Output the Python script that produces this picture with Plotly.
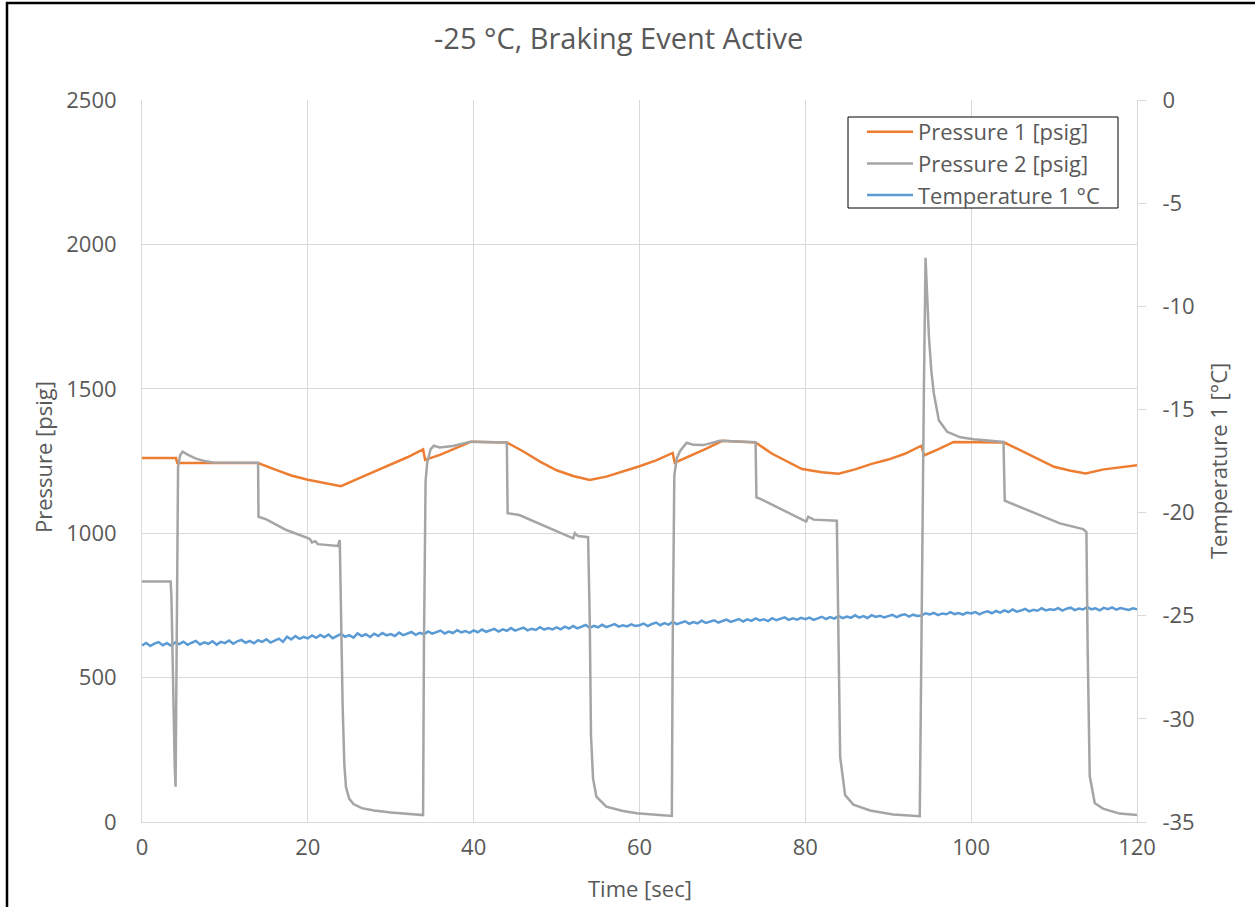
import numpy as np
import plotly.graph_objects as go

# ---------------- data ----------------
# Pressure 1 [psig] (breakpoints of the logged trace)
time_p1 = [0, 4.1, 4.25, 14.0, 16, 18, 20, 22, 24.0, 26, 28, 30, 32, 33.9, 34.15, 36, 38, 39.7,
           44.0, 46, 48, 50, 52, 54.0, 56, 58, 60, 62, 64.0, 64.25, 66, 68, 70, 74.0, 76, 78, 79.6,
           82, 84, 86, 88, 90, 92, 94.0, 94.3, 96, 97.9, 104.0, 106, 108, 110, 112, 113.8, 116,
           118, 120]
pressure_1 = [1260, 1260, 1243, 1243, 1221, 1200, 1185, 1175, 1163, 1188, 1213, 1238, 1263, 1290,
              1254, 1272, 1295, 1317, 1314, 1283, 1248, 1218, 1198, 1184, 1196, 1213, 1232, 1252,
              1278, 1244, 1266, 1292, 1320, 1314, 1275, 1245, 1222, 1211, 1206, 1221, 1240, 1255,
              1275, 1303, 1269, 1290, 1316, 1314, 1285, 1258, 1230, 1216, 1207, 1221, 1228, 1235]

# Pressure 2 [psig]
time_p2 = [0, 3.45, 3.55, 3.65, 3.75, 3.85, 3.95, 4.05, 4.15, 4.25, 4.35, 4.6, 4.9, 5.5, 6.5, 7.5,
           8.6, 14.0, 14.05, 15, 17.4, 20.1, 20.3, 20.5, 20.9, 21.2, 23.6, 23.85, 24.0, 24.2, 24.4,
           24.6, 25.0, 25.5, 26.5, 28, 30, 32, 33.9, 34.0, 34.2, 34.4, 34.8, 35.2, 35.9, 37.5, 39.6,
           44.0, 44.1, 45.5, 49.6, 52.0, 52.2, 52.6, 53.8, 54.0, 54.15, 54.4, 54.8, 56.0, 58, 59.7,
           62, 63.9, 64.0, 64.2, 64.5, 64.9, 65.7, 66.5, 67.7, 69.7, 74.0, 74.1, 74.5, 77.7, 80.1,
           80.35, 81.0, 83.8, 84.0, 84.2, 84.8, 85.8, 87.8, 90.6, 93.8, 94.0, 94.3, 94.5, 94.9,
           95.2, 95.5, 96.1, 97.1, 98.7, 100.3, 103.9, 104.05, 104.6, 107.9, 110.7, 113.5, 113.9,
           114.05, 114.3, 114.9, 115.9, 117.9, 120]
pressure_2 = [833, 833, 780, 600, 420, 290, 190, 122, 450, 1000, 1230, 1270, 1282, 1272, 1258, 1250,
              1245, 1244, 1057, 1048, 1011, 982, 978, 968, 972, 962, 956, 976, 700, 400, 200,
              120, 80, 62, 48, 40, 33, 28, 24, 600, 1180, 1245, 1290, 1303, 1297, 1302, 1317,
              1314, 1069, 1063, 1011, 982, 1000, 990, 986, 700, 300, 150, 88, 53, 38, 30,
              25, 21, 600, 1200, 1260, 1285, 1313, 1306, 1305, 1320, 1315, 1124, 1120, 1073, 1040,
              1057, 1047, 1043, 700, 225, 93, 60, 40, 26, 20, 700, 1500, 1954, 1683,
              1560, 1484, 1391, 1351, 1332, 1325, 1316, 1113, 1106, 1067, 1034, 1014, 1004,
              600, 159, 66, 46, 29, 24]

# Temperature 1 [°C], sampled every 0.5 s from 0 to 120 s
time_t1 = np.arange(0, 120.25, 0.5)
temperature_1 = [
    -26.44, -26.32, -26.47, -26.35, -26.28, -26.43, -26.33, -26.45, -26.30, -26.38,
    -26.26, -26.41, -26.31, -26.22, -26.39, -26.29, -26.36, -26.24, -26.40, -26.27,
    -26.33, -26.20, -26.36, -26.24, -26.17, -26.31, -26.22, -26.34, -26.19, -26.27,
    -26.14, -26.30, -26.21, -26.11, -26.26, -26.02, -26.15, -25.99, -26.12, -26.03,
    -26.10, -25.96, -26.07, -25.93, -26.05, -25.91, -26.09, -25.97, -25.88, -26.02,
    -25.94, -26.06, -25.86, -25.99, -25.90, -26.03, -25.87, -25.98, -25.84, -25.95,
    -25.89, -25.98, -25.82, -25.94, -25.85, -25.79, -25.93, -25.83, -25.90, -25.76,
    -25.87, -25.80, -25.72, -25.86, -25.77, -25.84, -25.70, -25.81, -25.74, -25.83,
    -25.71, -25.80, -25.67, -25.78, -25.69, -25.64, -25.77, -25.66, -25.73, -25.60,
    -25.72, -25.65, -25.58, -25.71, -25.63, -25.69, -25.56, -25.67, -25.60, -25.66,
    -25.57, -25.66, -25.53, -25.62, -25.50, -25.61, -25.54, -25.45, -25.59, -25.49,
    -25.56, -25.44, -25.55, -25.48, -25.41, -25.53, -25.46, -25.52, -25.42, -25.50,
    -25.46, -25.38, -25.50, -25.40, -25.33, -25.46, -25.36, -25.43, -25.30, -25.41,
    -25.34, -25.27, -25.39, -25.31, -25.37, -25.24, -25.35, -25.28, -25.22, -25.33,
    -25.27, -25.19, -25.30, -25.21, -25.16, -25.28, -25.18, -25.25, -25.13, -25.23,
    -25.17, -25.26, -25.12, -25.22, -25.15, -25.08, -25.20, -25.13, -25.19, -25.10,
    -25.17, -25.09, -25.20, -25.11, -25.05, -25.16, -25.07, -25.14, -25.01, -25.12,
    -25.04, -25.10, -24.98, -25.09, -25.02, -25.11, -24.97, -25.06, -25.00, -25.08,
    -25.03, -24.96, -25.07, -24.98, -24.93, -25.04, -24.95, -25.01, -24.99, -24.88,
    -24.94, -24.86, -24.97, -24.89, -24.93, -24.83, -24.92, -24.87, -24.95, -24.85,
    -24.89, -24.82, -24.93, -24.84, -24.79, -24.88, -24.77, -24.85, -24.74, -24.82,
    -24.70, -24.80, -24.75, -24.67, -24.79, -24.71, -24.76, -24.64, -24.74, -24.69,
    -24.72, -24.63, -24.75, -24.66, -24.61, -24.73, -24.65, -24.70, -24.58, -24.69,
    -24.64, -24.74, -24.62, -24.68, -24.60, -24.71, -24.63, -24.67, -24.72, -24.64,
    -24.69,
]

# right-hand axis ticks, written with a plain hyphen
temp_ticks = [0, -5, -10, -15, -20, -25, -30, -35]
temp_ticktext = ["0", "-5", "-10", "-15", "-20", "-25", "-30", "-35"]

# ---------------- layout geometry ----------------
W, H = 1255, 907
ML, MR, MT, MB = 142, 118, 100, 85
PW, PH = W - ML - MR, H - MT - MB


def px(x):
    """pixel column -> paper x"""
    return (x - ML) / PW


def py(y):
    """pixel row -> paper y"""
    return (H - MB - y) / PH


FONT = "Open Sans"
TXT = "#595959"
GRID = "#D9D9D9"

fig = go.Figure()

# temperature on the primary (right-hand) axis so the pressure traces sit above it
fig.add_trace(go.Scatter(x=time_t1, y=temperature_1, name="Temperature 1 °C", mode="lines",
                         line=dict(color="#5B9BD5", width=2.5), yaxis="y", legendrank=3))
fig.add_trace(go.Scatter(x=time_p1, y=pressure_1, name="Pressure 1 [psig]", mode="lines",
                         line=dict(color="#ED7D31", width=2.5), yaxis="y2", legendrank=1))
fig.add_trace(go.Scatter(x=time_p2, y=pressure_2, name="Pressure 2 [psig]", mode="lines",
                         line=dict(color="#A5A5A5", width=2.5), yaxis="y2", legendrank=2))

fig.update_layout(
    width=W, height=H,
    margin=dict(l=ML, r=MR, t=MT, b=MB),
    paper_bgcolor="white", plot_bgcolor="white",
    font=dict(family=FONT, size=22, color=TXT),
    showlegend=True,
    legend=dict(x=px(862), y=py(111), xanchor="left", yanchor="top",
                bgcolor="rgba(0,0,0,0)", borderwidth=0, itemwidth=46,
                font=dict(family=FONT, size=22, color=TXT)),
    xaxis=dict(range=[0, 120], dtick=20, tick0=0, showgrid=True, gridcolor=GRID, gridwidth=1,
               zeroline=False, showline=True, linecolor=GRID, linewidth=1, ticks="",
               tickfont=dict(size=22, color=TXT), ticklabelstandoff=6),
    yaxis=dict(range=[-35, 0], tickmode="array", tickvals=temp_ticks, ticktext=temp_ticktext,
               side="right", showgrid=False, zeroline=False,
               showline=True, linecolor=GRID, linewidth=1, ticks="outside", ticklen=8,
               tickcolor=GRID, tickwidth=1, tickfont=dict(size=22, color=TXT),
               ticklabelstandoff=12),
    yaxis2=dict(range=[0, 2500], dtick=500, tick0=0, side="left", overlaying="y",
                showgrid=True, gridcolor=GRID, gridwidth=1, zeroline=False,
                showline=True, linecolor=GRID, linewidth=1, ticks="",
                tickfont=dict(size=22, color=TXT), ticklabelstandoff=20),
)

fig.add_annotation(text="-25 °C, Braking Event Active", x=px(618), y=py(38), xref="paper",
                   yref="paper", showarrow=False, xanchor="center", yanchor="middle",
                   font=dict(family=FONT, size=29, color=TXT))
fig.add_annotation(text="Pressure [psig]", x=px(43), y=py(457), xref="paper", yref="paper",
                   showarrow=False, textangle=-90, xanchor="center", yanchor="middle",
                   font=dict(family=FONT, size=22, color=TXT))
fig.add_annotation(text="Temperature 1 [°C]", x=px(1218), y=py(461), xref="paper", yref="paper",
                   showarrow=False, textangle=-90, xanchor="center", yanchor="middle",
                   font=dict(family=FONT, size=22, color=TXT))
fig.add_annotation(text="Time [sec]", x=px(640), y=py(888), xref="paper", yref="paper",
                   showarrow=False, xanchor="center", yanchor="middle",
                   font=dict(family=FONT, size=22, color=TXT))

# legend frame (white fill hides the grid behind the legend)
fig.add_shape(type="rect", xref="paper", yref="paper", x0=px(848), x1=px(1118),
              y0=py(208), y1=py(117), line=dict(color="black", width=1),
              fillcolor="white", layer="above")
# outer chart border
fig.add_shape(type="rect", xref="paper", yref="paper", x0=px(7), x1=px(1270),
              y0=py(925), y1=py(3), line=dict(color="black", width=2.5), layer="above")

fig.write_html("out.html")
